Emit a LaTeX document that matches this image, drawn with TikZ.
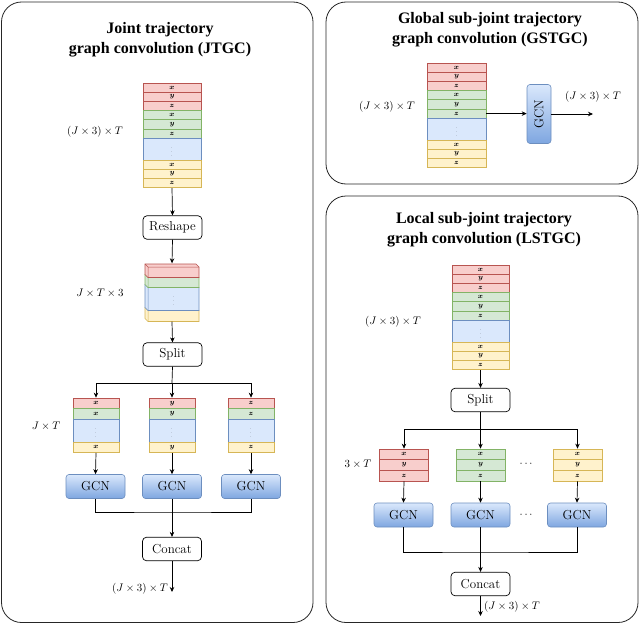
\documentclass[tikz,border=0pt]{standalone}
\usepackage{amsmath}
\usepackage[no-math]{fontspec}
\newfontfamily\ttlfont{Liberation Serif}
\usetikzlibrary{arrows.meta}
\definecolor{rF}{HTML}{F8CECC}\definecolor{rD}{HTML}{B85450}
\definecolor{gF}{HTML}{D5E8D4}\definecolor{gD}{HTML}{82B366}
\definecolor{bF}{HTML}{DAE8FC}\definecolor{bD}{HTML}{6C8EBF}
\definecolor{yF}{HTML}{FFF2CC}\definecolor{yD}{HTML}{D6B656}
\definecolor{gcnT}{HTML}{DAE8FC}\definecolor{gcnB}{HTML}{7EA6E0}
\tikzset{
  panel/.style={draw=black!85, line width=0.8pt, rounded corners=20pt},
  cellbox/.style={draw, rectangle, inner sep=0pt, line width=0.7pt, font=\fontsize{7}{7}\selectfont},
  procbox/.style={draw, rounded corners=4pt, fill=white, minimum width=59pt, minimum height=23.5pt, inner sep=0pt, line width=0.7pt, font=\fontsize{13}{13}\selectfont},
  gcnbox/.style={draw=bD, rounded corners=3pt, top color=gcnT, bottom color=gcnB, minimum width=59pt, minimum height=24pt, inner sep=0pt, line width=0.6pt, font=\fontsize{13}{13}\selectfont},
  arr/.style={-{Stealth[length=5pt,width=4.5pt]}, line width=0.7pt},
  ln/.style={line width=0.7pt},
  ttl/.style={align=center, font=\ttlfont\bfseries\fontsize{16}{20}\selectfont},
  dimlbl/.style={font=\fontsize{10.5}{10.5}\selectfont, inner sep=0pt},
}
% big stack: name, cx, ytop, width
\newcommand\bigstack[4]{%
  \foreach \c/\t [count=\i] in {r/x,r/y,r/z,g/x,g/y,g/z}{
    \node[cellbox, fill=\c F, draw=\c D, minimum width=#4pt, minimum height=9.2pt] (#1-\i) at (#2,{#3+9.2*\i-4.6}) {$\boldsymbol{\t}$};
  }
  \node[cellbox, fill=bF, draw=bD, minimum width=#4pt, minimum height=22pt] (#1-7) at (#2,{#3+55.2+11}) {\fontsize{4}{4}\selectfont$\vdots$};
  \foreach \t [count=\i from 8] in {x,y,z}{
    \node[cellbox, fill=yF, draw=yD, minimum width=#4pt, minimum height=9.2pt] (#1-\i) at (#2,{#3+77.2+9.2*(\i-8)+4.6}) {$\boldsymbol{\t}$};
  }
}
% JTGC small stack: name, cx, letter
\newcommand\jstack[3]{%
  \node[cellbox, fill=rF, draw=rD, minimum width=46pt, minimum height=10.5pt] (#1-1) at (#2,403.25) {$\boldsymbol{#3}$};
  \node[cellbox, fill=gF, draw=gD, minimum width=46pt, minimum height=10.5pt] (#1-2) at (#2,413.75) {$\boldsymbol{#3}$};
  \node[cellbox, fill=bF, draw=bD, minimum width=46pt, minimum height=23pt] (#1-3) at (#2,430.5) {\fontsize{4}{4}\selectfont$\vdots$};
  \node[cellbox, fill=yF, draw=yD, minimum width=46pt, minimum height=10.5pt] (#1-4) at (#2,447.25) {$\boldsymbol{#3}$};
}
% LSTGC small stack: name, cx, colour letter
\newcommand\lstack[3]{%
  \foreach \t [count=\i] in {x,y,z}{
    \node[cellbox, fill=#3F, draw=#3D, minimum width=49pt, minimum height=10.67pt] (#1-\i) at (#2,{449+10.67*\i-5.33}) {$\boldsymbol{\t}$};
  }
}
% 3D layer: colour letter, y0, y1
\newcommand\cubelayer[3]{%
  \filldraw[fill=#1F, draw=#1D, line width=0.6pt] (145,#2) -- (196,#2) -- (199,#2+3) -- (199,#3) -- (148,#3) -- (145,#3-3) -- cycle;
  \draw[draw=#1D, line width=0.5pt] (145,#2) -- (148,#2+3) -- (199,#2+3) (148,#2+3) -- (148,#3);
}
\begin{document}
\begin{tikzpicture}[x=1pt, y=-1pt]
\useasboundingbox (0,0) rectangle (640,626);
% panels
\draw[panel] (1.5,2) rectangle (313,622.5);
\draw[panel] (326,2) rectangle (638,184);
\draw[panel] (326,196) rectangle (638,622.5);

% ===== JTGC =====
\node[ttl] (t1) at (160,40) {Joint trajectory\\graph convolution (JTGC)};
\bigstack{js}{172}{83}{58}
\node[dimlbl] (l1) at (95,132) {$(J\times3)\times T$};
\node[procbox] (reshape) at (172.5,227.5) {Reshape};
\node[minimum width=54pt, minimum height=58pt, inner sep=0pt] (cube) at (172,292.5) {};
\cubelayer{y}{307.5}{321.5}
\cubelayer{b}{284.5}{310.5}
\cubelayer{g}{274.5}{287.5}
\cubelayer{r}{264}{277.5}
\node[font=\fontsize{4}{4}\selectfont, inner sep=0pt] (cdots) at (174,298) {$\vdots$};
\node[dimlbl] (l2) at (100,293) {$J\times T\times 3$};
\node[procbox] (split) at (172.5,354.5) {Split};
\coordinate (jbr) at (172,383);
\jstack{sa}{96}{x}
\jstack{sb}{172}{y}
\jstack{sc}{251}{z}
\node[dimlbl] (l3) at (46,426) {$J\times T$};
\node[gcnbox] (ga) at (95.5,486.5) {GCN};
\node[gcnbox] (gb) at (172,486.5) {GCN};
\node[gcnbox] (gc) at (251,486.5) {GCN};
\coordinate (jm) at (172,512);
\node[procbox] (jconcat) at (172,549) {Concat};
\coordinate (jout) at (172,592);
\node[dimlbl] (l4) at (140,589) {$(J\times3)\times T$};

\draw[arr] (js-10.south) -- (reshape.north);
\draw[arr] (reshape.south) -- (cube.north);
\draw[arr] (cube.south) -- (split.north);
\draw[ln] (split.south) -- (jbr);
\draw[arr] (jbr) -| (sa-1.north);
\draw[arr] (jbr) -| (sc-1.north);
\draw[arr] (jbr) -- (sb-1.north);
\draw[arr] (sa-4.south) -- (ga.north);
\draw[arr] (sb-4.south) -- (gb.north);
\draw[arr] (sc-4.south) -- (gc.north);
\draw[ln] (ga.south) |- (jm) -| (gc.south);
\draw[arr] (gb.south) -- (jconcat.north);
\draw[arr] (jconcat.south) -- (jout);

% ===== GSTGC =====
\node[ttl] (t2) at (490,30) {Global sub-joint trajectory\\graph convolution (GSTGC)};
\bigstack{gs}{456.5}{63}{59}
\node[dimlbl] (l5) at (387,107) {$(J\times3)\times T$};
\node[gcnbox, rotate=90] (ggcn) at (539,114) {GCN};
\coordinate (gout) at (593,114);
\node[dimlbl] (l6) at (593,97) {$(J\times3)\times T$};
\draw[arr] (gs-6.east) -- (gs-6.east -| ggcn.north);
\draw[arr] (ggcn.south) -- (gout);

% ===== LSTGC =====
\node[ttl] (t3) at (484,230) {Local sub-joint trajectory\\graph convolution (LSTGC)};
\bigstack{ls}{480.5}{265}{57}
\node[dimlbl] (l7) at (393,322) {$(J\times3)\times T$};
\node[procbox] (lsplit) at (480.5,400) {Split};
\coordinate (lbr) at (480.5,429);
\lstack{la}{404}{r}
\lstack{lb}{480.5}{g}
\lstack{lc}{577.5}{y}
\node[dimlbl] (l8) at (358,464) {$3\times T$};
\node[dimlbl] (d1) at (527,464) {$\cdots$};
\node[gcnbox] (lga) at (403.5,515) {GCN};
\node[gcnbox] (lgb) at (480.5,515) {GCN};
\node[gcnbox] (lgc) at (577,515) {GCN};
\node[dimlbl] (d2) at (527,515) {$\cdots$};
\coordinate (lm) at (480.5,552);
\node[procbox] (lconcat) at (480.5,584) {Concat};
\coordinate (lout) at (480.5,616);
\node[dimlbl] (l9) at (512,607) {$(J\times3)\times T$};

\draw[arr] (ls-10.south) -- (lsplit.north);
\draw[ln] (lsplit.south) -- (lbr);
\draw[arr] (lbr) -| (la-1.north);
\draw[arr] (lbr) -| (lc-1.north);
\draw[arr] (lbr) -- (lb-1.north);
\draw[arr] (la-3.south) -- (lga.north);
\draw[arr] (lb-3.south) -- (lgb.north);
\draw[arr] (lc-3.south) -- (lgc.north);
\draw[ln] (lga.south) |- (lm) -| (lgc.south);
\draw[arr] (lgb.south) -- (lconcat.north);
\draw[arr] (lconcat.south) -- (lout);
\end{tikzpicture}
\end{document}
